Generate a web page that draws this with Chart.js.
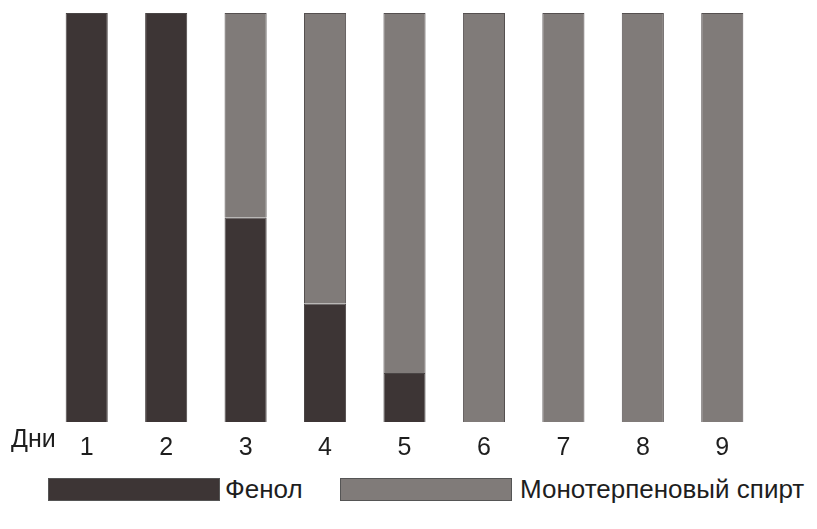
<!DOCTYPE html>
<html lang="ru">
<head>
<meta charset="UTF-8">
<title>Фенол / Монотерпеновый спирт</title>
<script src="https://cdn.jsdelivr.net/npm/chart.js@4/dist/chart.umd.min.js"></script>
<style>
    body { margin: 0; background: #fff; font-family: "Liberation Sans", Arial, sans-serif; }
    #wrap { position: relative; width: 817px; height: 529px; }
    #box { position: absolute; left: 0; top: 0; width: 817px; height: 466px; }
    .leg { position: absolute; top: 478px; height: 23px; box-sizing: border-box; border: 1px solid #555; }
    .legtxt { position: absolute; top: 474px; font-size: 26px; color: #1e1e1e; line-height: 31px; }
</style>
</head>
<body>
<div id="wrap">
    <div id="box"><canvas id="chart"></canvas></div>
    <div class="leg" style="left:48px;width:172px;background:#3d3535"></div>
    <div class="legtxt" style="left:225px">Фенол</div>
    <div class="leg" style="left:340px;width:172px;background:#807b79"></div>
    <div class="legtxt" style="left:520px">Монотерпеновый спирт</div>
</div>
<script>
    // days and shares (%)
    var days = ['1', '2', '3', '4', '5', '6', '7', '8', '9'];
    var phenol = [100, 100, 50, 29, 12, 0, 0, 0, 0];
    var monoterpene = [0, 0, 50, 71, 88, 100, 100, 100, 100];

    // "Дни" to the left of the day labels
    var dayWord = {
        id: 'dayWord',
        afterDraw: function (chart) {
            var ctx = chart.ctx;
            var xs = chart.scales.x;
            ctx.save();
            ctx.font = '25px "Liberation Sans", Arial, sans-serif';
            ctx.fillStyle = '#1e1e1e';
            ctx.textBaseline = 'middle';
            ctx.textAlign = 'left';
            ctx.fillText('Дни', 11, xs.top + 3 + 15);
            ctx.restore();
        }
    };

    new Chart(document.getElementById('chart'), {
        type: 'bar',
        data: {
            labels: days,
            datasets: [
                {
                    label: 'Фенол',
                    data: phenol,
                    backgroundColor: '#3d3535',
                    borderColor: '#4a4545',
                    borderWidth: 1,
                    barPercentage: 0.53,
                    categoryPercentage: 1
                },
                {
                    label: 'Монотерпеновый спирт',
                    data: monoterpene,
                    backgroundColor: '#807b79',
                    borderColor: '#555050',
                    borderWidth: 1,
                    barPercentage: 0.53,
                    categoryPercentage: 1
                }
            ]
        },
        options: {
            responsive: true,
            maintainAspectRatio: false,
            animation: false,
            layout: { padding: { left: 47, right: 55, top: 13, bottom: 0 } },
            plugins: { legend: { display: false }, tooltip: { enabled: false } },
            scales: {
                x: {
                    stacked: true,
                    grid: { display: false },
                    border: { display: false },
                    ticks: {
                        color: '#1e1e1e',
                        padding: 3,
                        font: { family: '"Liberation Sans", Arial, sans-serif', size: 25 }
                    }
                },
                y: {
                    stacked: true,
                    display: false,
                    min: 0,
                    max: 100
                }
            }
        },
        plugins: [dayWord]
    });
</script>
</body>
</html>
